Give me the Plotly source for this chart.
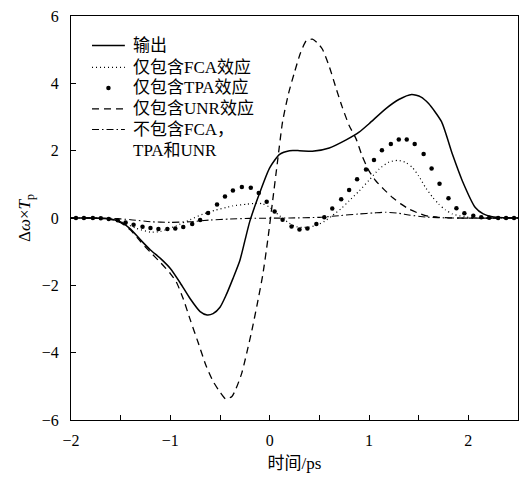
import plotly.graph_objects as go

# time axis (ps) and normalized frequency shift for each case
t_out = [-2.0, -1.8, -1.6, -1.5, -1.4, -1.3, -1.2, -1.1, -1.0, -0.9, -0.8, -0.7, -0.63, -0.57, -0.5,
         -0.44, -0.37, -0.3, -0.25, -0.2, -0.1, 0.0, 0.1, 0.2, 0.3, 0.43, 0.6, 0.77, 0.9, 1.0, 1.17,
         1.3, 1.43, 1.52, 1.6, 1.73, 1.84, 1.94, 2.07, 2.15, 2.24, 2.35, 2.5]
y_out = [0.0, 0.0, -0.03, -0.12, -0.33, -0.65, -0.95, -1.2, -1.5, -1.93, -2.4, -2.78, -2.88, -2.84, -2.65,
         -2.3, -1.8, -1.26, -0.68, -0.1, 0.75, 1.49, 1.89, 2.0, 2.0, 1.98, 2.08, 2.32, 2.55, 2.8, 3.25,
         3.52, 3.67, 3.6, 3.4, 2.86, 1.89, 1.1, 0.31, 0.12, 0.04, 0.01, 0.0]

t_fca = [-2.0, -1.7, -1.5, -1.35, -1.2, -1.1, -0.94, -0.8, -0.67, -0.55, -0.44, -0.37, -0.23, -0.13,
         -0.07, 0.0, 0.05, 0.1, 0.18, 0.27, 0.37, 0.47, 0.55, 0.63, 0.72, 0.8, 0.9, 1.0, 1.1, 1.2, 1.29,
         1.37, 1.44, 1.5, 1.57, 1.64, 1.7, 1.77, 1.84, 1.97, 2.1, 2.5]
y_fca = [0.0, -0.01, -0.1, -0.3, -0.42, -0.4, -0.23, -0.05, 0.12, 0.23, 0.31, 0.36, 0.41, 0.44,
         0.42, 0.32, 0.19, 0.07, -0.12, -0.26, -0.28, -0.22, -0.1, 0.07, 0.28, 0.51, 0.8, 1.12, 1.45, 1.66, 1.71,
         1.65, 1.49, 1.25, 0.9, 0.62, 0.42, 0.24, 0.12, 0.03, 0.0, 0.0]

t_tpa = [-1.95, -1.87, -1.78, -1.70, -1.62, -1.53, -1.45, -1.37, -1.28, -1.20, -1.12, -1.03, -0.95,
         -0.87, -0.78, -0.70, -0.62, -0.53, -0.45, -0.37, -0.28, -0.19, -0.11, -0.03, 0.05, 0.13, 0.22,
         0.30, 0.38, 0.47, 0.55, 0.63, 0.72, 0.80, 0.88, 0.97, 1.05, 1.13, 1.22, 1.30, 1.38, 1.46, 1.55,
         1.63, 1.71, 1.80, 1.88, 1.96, 2.05, 2.13, 2.21, 2.30, 2.38, 2.46]
y_tpa = [0.0, 0.0, 0.0, -0.01, -0.03, -0.07, -0.13, -0.2, -0.26, -0.3, -0.33, -0.33, -0.31,
         -0.27, -0.18, -0.06, 0.15, 0.4, 0.64, 0.82, 0.92, 0.9, 0.74, 0.48, 0.19, -0.05, -0.25,
         -0.34, -0.31, -0.18, 0.02, 0.28, 0.56, 0.83, 1.15, 1.44, 1.72, 2.01, 2.2, 2.33, 2.33, 2.2, 1.9,
         1.47, 1.02, 0.59, 0.29, 0.14, 0.07, 0.02, 0.01, 0.0, 0.0, 0.0]

t_unr = [-2.0, -1.8, -1.6, -1.5, -1.4, -1.3, -1.2, -1.1, -1.0, -0.94, -0.87, -0.8, -0.72, -0.64, -0.57,
         -0.5, -0.44, -0.38, -0.34, -0.28, -0.23, -0.18, -0.13, -0.07, -0.02, 0.03, 0.08, 0.13, 0.19,
         0.25, 0.31, 0.37, 0.43, 0.48, 0.53, 0.6, 0.67, 0.73, 0.8, 0.87, 0.93, 1.0, 1.07, 1.15, 1.24,
         1.32, 1.4, 1.5, 1.57, 1.7, 1.9, 2.5]
y_unr = [0.0, 0.0, -0.04, -0.14, -0.36, -0.7, -1.02, -1.32, -1.65, -1.9, -2.4, -3.02, -3.7, -4.39, -4.85,
         -5.17, -5.38, -5.3, -5.08, -4.6, -4.0, -3.35, -2.63, -1.7, -0.67, 0.51, 1.7, 2.86, 3.7,
         4.33, 4.9, 5.27, 5.31, 5.2, 5.02, 4.5, 3.84, 3.3, 2.75, 2.35, 1.85, 1.4, 1.1, 0.85, 0.6,
         0.42, 0.27, 0.14, 0.07, 0.02, 0.0, 0.0]

t_none = [-2.0, -1.6, -1.4, -1.2, -1.0, -0.8, -0.6, -0.4, -0.2, 0.2, 0.5, 0.7, 0.9, 1.05, 1.17, 1.3,
          1.4, 1.57, 1.8, 2.5]
y_none = [0.0, -0.01, -0.05, -0.11, -0.13, -0.11, -0.06, -0.03, -0.01, 0.0, 0.02, 0.07, 0.12, 0.15, 0.17,
          0.14, 0.09, 0.03, 0.0, 0.0]

x_ticks = [-2, -1, 0, 1, 2]
y_ticks = [-6, -4, -2, 0, 2, 4, 6]

legend_labels = ["输出", "仅包含FCA效应", "仅包含TPA效应", "仅包含UNR效应", "不包含FCA，", "TPA和UNR"]

FONT = "'Liberation Serif', 'Noto Sans CJK SC', serif"
TICK_FONT = dict(family="'Liberation Serif', serif", size=16, color="black")

SOLID = dict(color="black", width=1.5)
DOTTED = dict(color="black", width=1.2, dash="1px,3px")
DASHED = dict(color="black", width=1.3, dash="7px,5px")
DASHDOT = dict(color="black", width=1.1, dash="7px,3px,1.5px,3px")
DOT_MARKER = dict(color="black", size=4.5, symbol="circle")

fig = go.Figure()
fig.add_trace(go.Scatter(x=t_out, y=y_out, mode="lines", name=legend_labels[0],
                         line=dict(**SOLID, shape="spline", smoothing=0.6)))
fig.add_trace(go.Scatter(x=t_fca, y=y_fca, mode="lines", name=legend_labels[1],
                         line=dict(**DOTTED, shape="spline", smoothing=0.6)))
fig.add_trace(go.Scatter(x=t_tpa, y=y_tpa, mode="markers", name=legend_labels[2],
                         marker=DOT_MARKER))
fig.add_trace(go.Scatter(x=t_unr, y=y_unr, mode="lines", name=legend_labels[3],
                         line=dict(**DASHED, shape="spline", smoothing=0.6)))
fig.add_trace(go.Scatter(x=t_none, y=y_none, mode="lines", name=legend_labels[4] + legend_labels[5],
                         line=dict(**DASHDOT, shape="spline", smoothing=0.6)))

# key drawn inside the plot area, top left
row_y = [0.927, 0.873, 0.822, 0.770, 0.719, 0.667]
key_x0, key_x1, key_xt = 0.047, 0.1205, 0.134
shapes = []
for yy, st in zip([row_y[0], row_y[1], row_y[3], row_y[4]], [SOLID, DOTTED, DASHED, DASHDOT]):
    shapes.append(dict(type="line", xref="paper", yref="paper", x0=key_x0, x1=key_x1, y0=yy, y1=yy,
                       line=st))
fig.add_trace(go.Scatter(x=[(key_x0 + key_x1) / 2], y=[row_y[2]], xaxis="x2", yaxis="y2",
                         mode="markers", marker=DOT_MARKER, showlegend=False, hoverinfo="skip"))
annotations = [dict(text=lab, xref="paper", yref="paper", x=key_xt, y=yy, xanchor="left",
                    yanchor="middle", showarrow=False, font=dict(family=FONT, size=17, color="black"))
               for lab, yy in zip(legend_labels, row_y)]

fig.update_layout(
    width=527, height=477,
    margin=dict(l=71, r=8, t=13, b=55),
    paper_bgcolor="white", plot_bgcolor="white",
    font=dict(family=FONT, size=16, color="black"),
    showlegend=False,
    shapes=shapes,
    annotations=annotations,
    xaxis=dict(range=[-2, 2.5], tickvals=x_ticks, ticks="inside", ticklen=5, tickwidth=1,
               tickcolor="black", showline=True, linecolor="black", linewidth=1.2, mirror=True,
               showgrid=False, zeroline=False, ticklabelstandoff=6, tickfont=TICK_FONT,
               minor=dict(dtick=0.5, ticks="inside", ticklen=5, tickcolor="black", showgrid=False),
               title=dict(text="时间/ps", font=dict(family=FONT, size=17, color="black"), standoff=8)),
    yaxis=dict(range=[-6, 6], tickvals=y_ticks, ticks="inside", ticklen=5, tickwidth=1,
               tickcolor="black", showline=True, linecolor="black", linewidth=1.2, mirror=True,
               showgrid=False, zeroline=False, ticklabelstandoff=8, tickfont=TICK_FONT,
               title=dict(text="Δ<i>ω</i>×<i>T</i><sub>p</sub>",
                          font=dict(family=FONT, size=17, color="black"), standoff=6)),
    xaxis2=dict(range=[0, 1], domain=[0, 1], anchor="y2", overlaying="x", visible=False),
    yaxis2=dict(range=[0, 1], domain=[0, 1], anchor="x2", overlaying="y", visible=False),
)

fig.write_html("out.html")
